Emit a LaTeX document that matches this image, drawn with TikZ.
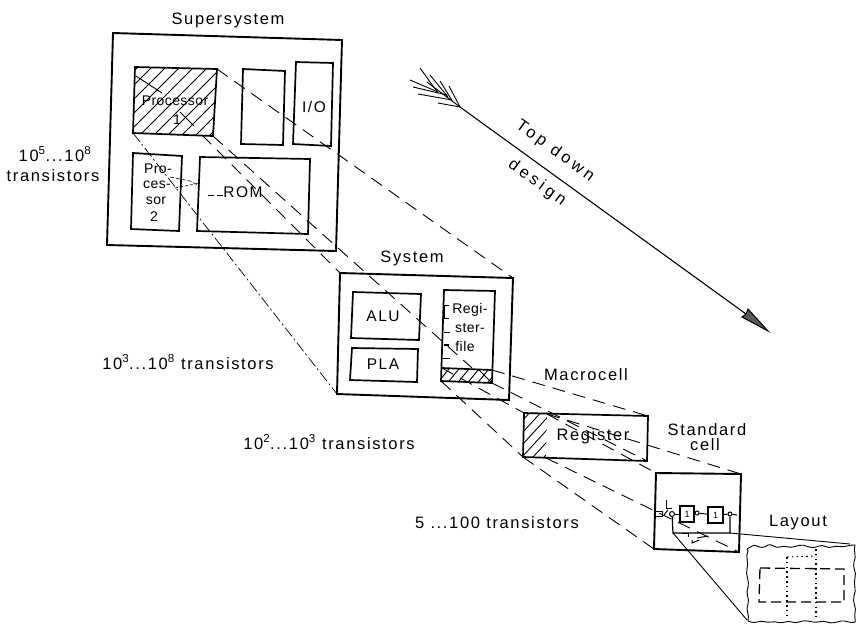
\documentclass[tikz,border=0pt]{standalone}
\usepackage{fontspec}
\setmainfont{Liberation Sans}
\newfontfamily\din[LetterSpace=10]{Liberation Sans}
\newfontfamily\dinn[LetterSpace=3]{Liberation Sans}
\newfontfamily\dinw[LetterSpace=22]{Liberation Sans}
\begin{document}
\begin{tikzpicture}[x=1pt,y=-1pt,
  thick box/.style={draw=black,line width=1.9pt,line join=miter},
  inner box/.style={draw=black,line width=1.7pt},
  dline/.style={draw=black,line width=0.9pt,dash pattern=on 13pt off 8pt},
  ddot/.style={draw=black,line width=0.7pt,dash pattern=on 11pt off 3pt on 2pt off 3pt},
  thinl/.style={draw=black,line width=0.9pt},
  hatchl/.style={draw=black,line width=0.9pt},
  lab/.style={inner sep=0pt,font=\din\fontsize{16.5}{18}\selectfont},
  wide/.style={inner sep=0pt,font=\dinw\fontsize{16.5}{18}\selectfont},
  mid/.style={inner sep=0pt,font=\din\fontsize{15.5}{18}\selectfont},
  small/.style={inner sep=0pt,font=\dinn\fontsize{14}{16}\selectfont},
  tiny1/.style={inner sep=0pt,font=\din\fontsize{9}{10}\selectfont}]
\useasboundingbox (0,0) rectangle (860,625);
\fill[white] (0,0) rectangle (860,625);

% --- corners
\coordinate (ssa) at (113,33);  \coordinate (ssb) at (342,40);
\coordinate (ssc) at (336,251); \coordinate (ssd) at (107,245);
\coordinate (pa) at (135,67);  \coordinate (pb) at (217,69);
\coordinate (pc) at (213,136); \coordinate (pd) at (133,133);
\coordinate (pe) at (202,135);
\coordinate (sa) at (340,273); \coordinate (sb) at (513,278);
\coordinate (sc) at (509,400); \coordinate (sd) at (337,394);
\coordinate (ba) at (442,368); \coordinate (bb) at (492,370);
\coordinate (bc) at (492,383); \coordinate (bd) at (441,381);
\coordinate (be) at (472,368);
\coordinate (ra) at (524,413); \coordinate (rb) at (648,416);
\coordinate (rc) at (647,461); \coordinate (rd) at (523,457);
\coordinate (re) at (547,414); \coordinate (rf) at (546,458);
\coordinate (ca) at (656,473); \coordinate (cb) at (741,474);
\coordinate (cc) at (739,552); \coordinate (cd) at (654,549);
\coordinate (fa) at (730,533); \coordinate (fb) at (673,533);
\coordinate (la) at (850,544); \coordinate (lb) at (747,620);

% --- hatching
\begin{scope}
\clip (pa)--(pb)--(pc)--(pd)--cycle;
\foreach \k in {-6,...,9}{
  \path[hatchl] (125+\k*14,150) -- (125+\k*14+90,60);
}
\path[hatchl] (136,76) -- (162,93);
\path[hatchl] (180,112) -- (194,126);
\end{scope}
\begin{scope}
\clip (ba)--(bb)--(bc)--(bd)--cycle;
\foreach \k in {0,...,6}{
  \path[hatchl] (435+\k*10,386) -- (453+\k*10,364);
}
\path[hatchl] (475,366) -- (492,383);
\end{scope}
\begin{scope}
\clip (ra)--(re)--(rf)--(rd)--cycle;
\foreach \k in {0,...,7}{
  \path[hatchl] (468+\k*11,468) -- (523+\k*11,408);
}
\end{scope}

% --- boxes
\path[thick box] (ssa)--(ssb)--(ssc)--(ssd)--cycle;
\path[inner box] (pa)--(pb)--(pc)--(pd)--cycle;
\path[inner box] (243,69)--(285,71)--(283,145)--(241,144)--cycle;
\path[inner box] (296,62)--(333,63)--(331,146)--(293,144)--cycle;
\path[inner box] (133,153)--(182,156)--(179,231)--(131,229)--cycle;
\path[inner box] (200,157)--(310,159)--(308,234)--(197,231)--cycle;

\path[thick box] (sa)--(sb)--(sc)--(sd)--cycle;
\path[inner box] (353,292)--(421,294)--(419,340)--(351,338)--cycle;
\path[inner box] (352,348)--(418,349)--(417,382)--(350,380)--cycle;
\path[inner box] (444,290)--(495,291)--(bc)--(bd)--cycle;
\path[inner box] (ba)--(bb);

\path[inner box] (ra)--(rb)--(rc)--(rd)--cycle;
\path[thick box] (ca)--(cb)--(cc)--(cd)--cycle;

% --- projection lines
\path[dline] (pb)--(sb);
\path[dline] (pe)--(sa);
\path[dline] (pc)--(be);
\path[ddot] (pd)--(sd);
\path[dline] (bb)--(rb);
\path[dline] (bc)--(rc);
\path[dline] (bd)--(rd);
\path[dline] (ba)--(ra);
\path[dline] (re)--(cb);
\path[dline] (re)--(ca);
\path[dline] (rd)--(cd);
\path[dline] (rf)--(cc);
\path[thinl] (fa)--(la);
\path[thinl] (fb)--(lb);

% --- scraps around Processor 2 / ROM
\path[draw=black,line width=0.6pt,dash pattern=on 4pt off 2pt] (170,177)--(190,181)--(200,186);
\path[draw=black,line width=0.6pt,dash pattern=on 3pt off 2pt] (175,188)--(200,183);
\path[draw=black,line width=0.9pt,dash pattern=on 6pt off 3pt] (208,195)--(223,195);

% --- register-file ticks
\path[draw=black,line width=0.9pt] (449,305)--(444.5,305)--(444.5,318)--(449,318);
\path[draw=black,line width=0.9pt] (444,332)--(450,332);
\path[draw=black,line width=1.4pt] (444,345)--(449,345);
\path[draw=black,line width=0.9pt] (443,358)--(450,358);

% --- gate circuit
\node[draw=black,line width=1.2pt,minimum width=14pt,minimum height=16pt,inner sep=0pt,tiny1] (g1) at (687,514) {1};
\node[draw=black,line width=1.2pt,minimum width=15pt,minimum height=16pt,inner sep=0pt,tiny1] (g2) at (715.5,515) {1};
\node[draw=black,circle,line width=1pt,minimum size=5pt,inner sep=0pt] (c0) at (672,514) {};
\node[draw=black,circle,line width=1pt,minimum size=4pt,inner sep=0pt] (c1) at (697,513) {};
\node[draw=black,circle,line width=1pt,minimum size=4pt,inner sep=0pt] (c2) at (730,514) {};
\coordinate (out) at (737,515);
\draw[line width=1pt] (c0)--(g1);
\draw[line width=1pt] (g1)--(c1)--(g2);
\draw[line width=1pt] (g2)--(c2)--(out);
\draw[line width=1.2pt] (c2)--(fa)--(fb)--(c0);
\draw[line width=1pt] (656,511)--(662,511)--(662,516)--(656,516);
\draw[line width=1pt] (664,515)--(668,510);
\draw[line width=1pt] (666,500)--(666,508)--(672,508);
\draw[line width=1pt] (682,533)--(688,533)--(688,537);
\draw[line width=1pt] (692,540)--(692,543)--(699,540);
\draw[line width=1pt] (697,538)--(708,536);

% --- layout
\path[draw=black,line width=0.9pt,line join=round]
  (747,549) .. controls (751,547) and (753,544) .. (757,546)
  .. controls (761,548) and (764,548) .. (768,545)
  .. controls (772,543) and (775,549) .. (780,547)
  .. controls (785,545) and (788,548) .. (793,547)
  .. controls (798,546) and (801,544) .. (806,546)
  .. controls (811,548) and (814,548) .. (819,546)
  .. controls (824,544) and (827,549) .. (832,547)
  .. controls (837,545) and (842,548) .. (847,546)
  .. controls (850,545) and (853,545) .. (855,545)
  .. controls (853,551) and (857,556) .. (854,562)
  .. controls (852,567) and (857,572) .. (855,578)
  .. controls (853,584) and (857,590) .. (854,596)
  .. controls (852,602) and (857,608) .. (855,613)
  .. controls (854,617) and (856,620) .. (855,622)
  .. controls (850,624) and (846,620) .. (841,621)
  .. controls (836,622) and (832,624) .. (827,622)
  .. controls (822,620) and (818,623) .. (813,622)
  .. controls (808,621) and (804,620) .. (799,622)
  .. controls (794,624) and (790,620) .. (785,622)
  .. controls (780,624) and (776,621) .. (771,622)
  .. controls (766,623) and (762,620) .. (757,622)
  .. controls (754,623) and (750,622) .. (748,621)
  .. controls (750,615) and (745,610) .. (748,604)
  .. controls (750,599) and (745,593) .. (748,587)
  .. controls (750,581) and (745,575) .. (747,569)
  .. controls (749,563) and (745,556) .. (748,551) -- cycle;
\path[draw=black,line width=1.3pt,dash pattern=on 10pt off 5pt] (760,568)--(844,569)--(844,602)--(759,602)--cycle;
\path[draw=black,line width=1.1pt,dash pattern=on 1.6pt off 3.2pt] (787,557)--(816,556);
\path[draw=black,line width=1.1pt,dash pattern=on 1.6pt off 3.2pt] (787,557)--(787,617);
\path[draw=black,line width=1.1pt,dash pattern=on 1.6pt off 3.2pt] (816,549)--(816,617);

% --- Top-down arrow
\coordinate (tail) at (460,107);
\coordinate (tip) at (768,331);
\coordinate (h1) at (748,309);
\coordinate (h2) at (742,317);
\coordinate (hn) at (746,314);
\path[draw=black,line width=1.1pt] (tail)--(hn);
\path[draw=black,fill=black!65,line width=1pt,line join=miter] (h1)--(tip)--(h2)--(hn)--cycle;
\draw[line width=0.9pt] (427,82)--(tail);
\draw[line width=0.9pt] (420,68) -- (438,93);
\draw[line width=0.9pt] (430,75) -- (448,97);
\draw[line width=0.9pt] (440,81) -- (453,102);
\draw[line width=0.9pt] (449,86) -- (tail);
\draw[line width=0.9pt] (410,80) -- (438,92);
\draw[line width=0.9pt] (413,87) -- (447,95);
\draw[line width=0.9pt] (418,94) -- (452,100);
\draw[line width=0.9pt] (438,103) -- (tail);

% --- labels
\node[lab] (tss) at (228,20) {Supersystem};
\node[small] (tp1) at (175,101) {Processor};
\node[small] (tp1b) at (177,120) {1};
\node[small] (tp2a) at (158,169) {Pro-};
\node[small] (tp2b) at (157,185) {ces-};
\node[small] (tp2c) at (156,201) {sor};
\node[small] (tp2d) at (154,217) {2};
\node[mid] (trom) at (243,192) {ROM};
\node[mid] (tio) at (314,107) {I/O};
\node[lab] (ts) at (412,258) {System};
\node[mid] (talu) at (383,316) {ALU};
\node[mid] (tpla) at (383,364) {PLA};
\node[small] (trf1) at (470,310) {Regi-};
\node[small] (trf2) at (470,328) {ster-};
\node[small] (trf3) at (465,346) {file};
\node[lab] (tmc) at (586,375) {Macrocell};
\node[lab] (treg) at (593,436) {Register};
\node[lab] (tst1) at (707,430) {Standard};
\node[lab] (tst2) at (705,445) {cell};
\node[lab] (tlay) at (798,523) {Layout};
\node[wide,rotate=-36] (ttd) at (555,151) {Top down};
\node[wide,rotate=-36] (tde) at (537,183) {design};
\node[lab] (t1) at (55,154) {10\textsuperscript{5}...10\textsuperscript{8}};
\node[lab] (t1d) at (53,176) {transistors};
\node[lab] (t2) at (188,362) {10\textsuperscript{3}...10\textsuperscript{8} transistors};
\node[lab] (t3) at (329,442) {10\textsuperscript{2}...10\textsuperscript{3} transistors};
\node[lab] (t4) at (497,523) {5 ...100 transistors};
\end{tikzpicture}
\end{document}
